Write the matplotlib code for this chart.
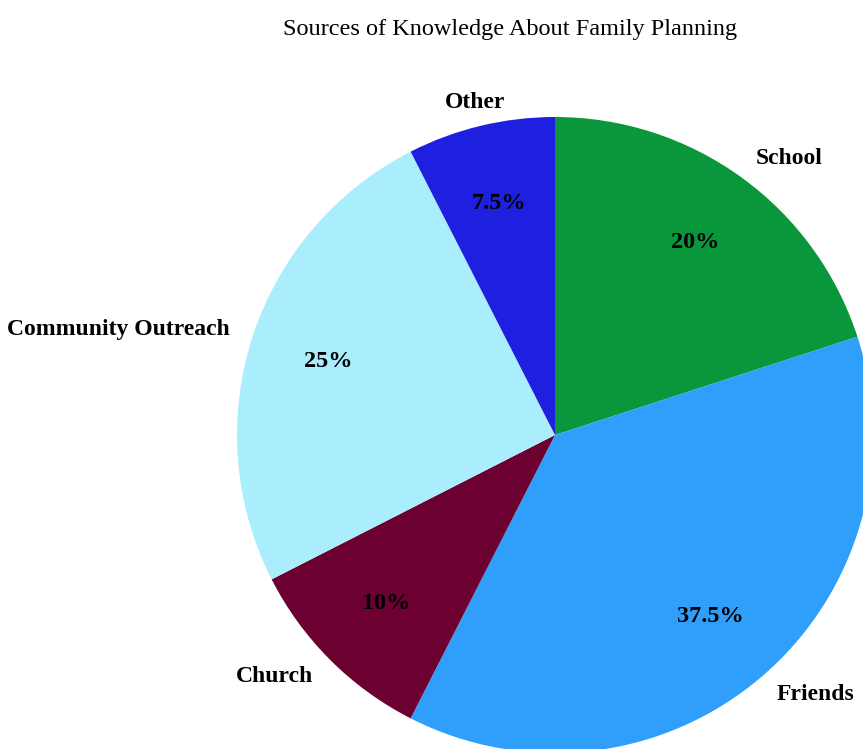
import matplotlib
matplotlib.use("Agg")
import matplotlib.pyplot as plt

labels = ["School", "Friends", "Church", "Community Outreach", "Other"]
shares = [20, 37.5, 10, 25, 7.5]
colors = ["#0a963a", "#2f9ffb", "#6c0030", "#aaedfd", "#1f1fe0"]
pct_text = ["20%", "37.5%", "10%", "25%", "7.5%"]

plt.rcParams["font.family"] = ["Liberation Serif", "DejaVu Serif"]

fig = plt.figure(figsize=(8.63, 7.49), dpi=100)
# pie centre at (555, 435) px from top-left, radius 318 px
r = 318
ax = fig.add_axes([(555 - r) / 863, (749 - 435 - r) / 749, 2 * r / 863, 2 * r / 749])

wedges, texts, autotexts = ax.pie(
    shares, labels=labels, colors=colors, startangle=90, counterclock=False,
    autopct="%1.1f%%", pctdistance=0.75, labeldistance=1.075,
    textprops={"fontsize": 17, "fontweight": "bold"},
    wedgeprops={"linewidth": 0},
)
ax.set_xlim(-1, 1)
ax.set_ylim(-1, 1)
ax.axis("off")
for t, s in zip(autotexts, pct_text):
    t.set_text(s)
    t.set_fontsize(17.5)
# the small top slice has its label centred over it
texts[4].set_ha("center")
for w in wedges:
    w.set_clip_on(False)
for t in texts + autotexts:
    t.set_clip_on(False)

fig.text(510 / 863, 1 - 29 / 749, "Sources of Knowledge About Family Planning",
         ha="center", va="center", fontsize=17.5)

fig.savefig("out.png", dpi=100)
